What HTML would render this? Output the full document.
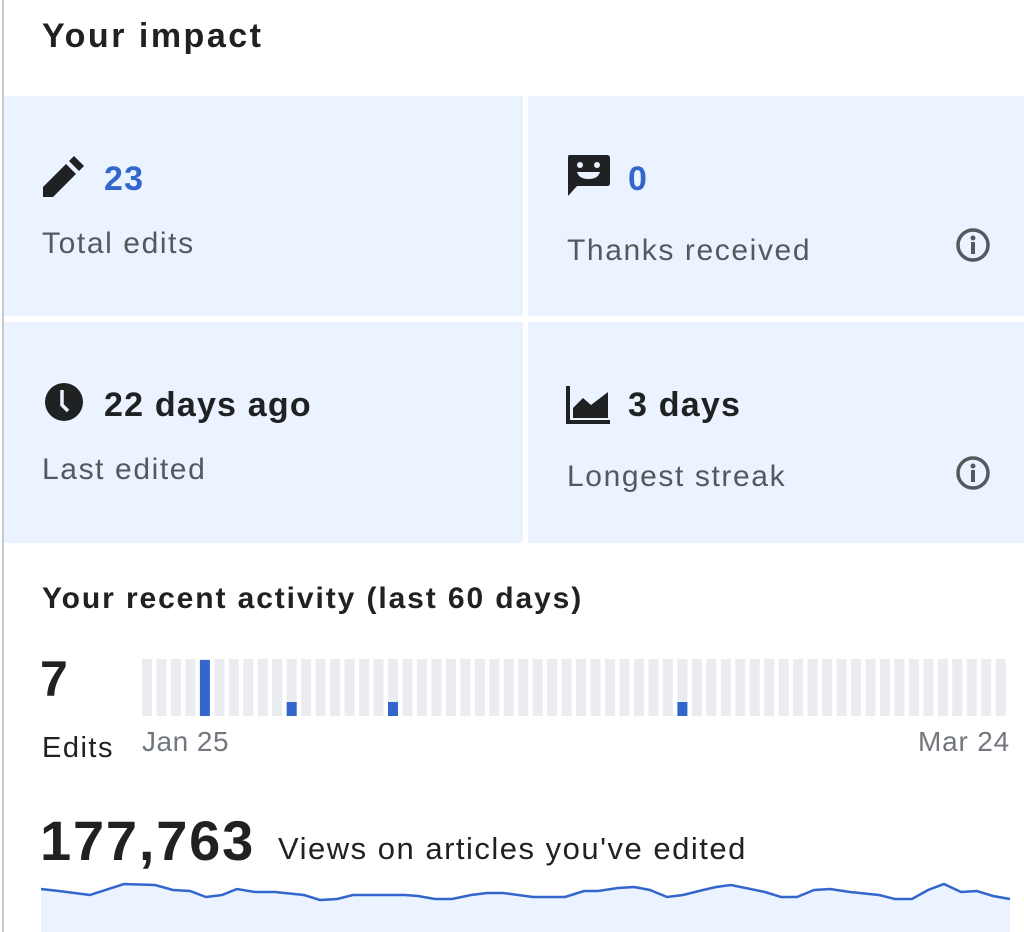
<!DOCTYPE html>
<html><head><meta charset="utf-8"><style>
*{margin:0;padding:0;box-sizing:border-box}
body{width:1024px;height:932px;background:#fff;position:relative;overflow:hidden;font-family:"Liberation Sans",sans-serif;color:#202122}
.a{position:absolute;white-space:nowrap}
.card{position:absolute;background:#eaf3ff}
.big{font-weight:bold;font-size:34px;letter-spacing:1.2px}
.lbl{font-size:30px;color:#54595d;letter-spacing:1.6px}
</style></head><body>
<div class="a" style="left:2px;top:0;width:2px;height:932px;background:#c8ccd1"></div>
<div class="a" style="left:42px;top:17px;font-size:34px;font-weight:bold;letter-spacing:2.5px">Your impact</div>
<div class="card" style="left:4px;top:96px;width:519px;height:220px"></div>
<div class="card" style="left:528px;top:96px;width:496px;height:220px"></div>
<div class="card" style="left:4px;top:322px;width:519px;height:221px"></div>
<div class="card" style="left:528px;top:322px;width:496px;height:221px"></div>

<svg class="a" style="left:40px;top:153px" width="46" height="46" viewBox="0 0 46 46"><path d="M3 44 L3 34 L26 11 L36 21 L13 44 Z" fill="#202122"/><path d="M29 8 L34 3 L44 13 L39 18 Z" fill="#202122"/></svg>
<div class="a big" style="left:104px;top:160px;color:#3366cc">23</div>
<div class="a lbl" style="left:42px;top:227px">Total edits</div>

<svg class="a" style="left:565px;top:152px" width="48" height="48" viewBox="0 0 48 48"><path d="M4 3 H42 Q45 3 45 6 V31 Q45 34 42 34 H12 L3 44 V6 Q3 3 4 3Z" fill="#202122"/><circle cx="15" cy="13" r="3" fill="#eaf3ff"/><circle cx="32" cy="13" r="3" fill="#eaf3ff"/><path d="M12 20 H35 Q33 27 23.5 27 Q14 27 12 20Z" fill="#eaf3ff"/></svg>
<div class="a big" style="left:628px;top:160px;color:#3366cc">0</div>
<div class="a lbl" style="left:567px;top:234px">Thanks received</div>
<svg class="a" style="left:955px;top:227px" width="36" height="36"><circle cx="18" cy="18" r="15" fill="none" stroke="#54595d" stroke-width="3.5"/><circle cx="18" cy="11" r="2.5" fill="#54595d"/><rect x="16" y="15" width="4" height="12" fill="#54595d"/></svg>

<svg class="a" style="left:40px;top:378px" width="48" height="48"><circle cx="24" cy="24" r="19" fill="#202122"/><path d="M22 12 V27 L28 33" stroke="#eaf3ff" stroke-width="3.5" fill="none"/></svg>
<div class="a big" style="left:104px;top:386px">22 days ago</div>
<div class="a lbl" style="left:42px;top:453px">Last edited</div>

<svg class="a" style="left:566px;top:384px" width="46" height="42"><path d="M2 2 V38 H44" stroke="#202122" stroke-width="4" fill="none"/><path d="M7 34 V24 L17 14 L25 21 L42 8 V34Z" fill="#202122"/></svg>
<div class="a big" style="left:628px;top:386px">3 days</div>
<div class="a lbl" style="left:567px;top:460px">Longest streak</div>
<svg class="a" style="left:955px;top:455px" width="36" height="36"><circle cx="18" cy="18" r="15" fill="none" stroke="#54595d" stroke-width="3.5"/><circle cx="18" cy="11" r="2.5" fill="#54595d"/><rect x="16" y="15" width="4" height="12" fill="#54595d"/></svg>

<div class="a" style="left:42px;top:582px;font-size:30px;font-weight:bold;letter-spacing:1.9px">Your recent activity (last 60 days)</div>
<div class="a" style="left:40px;top:650px;font-size:50px;font-weight:bold">7</div>
<div class="a" style="left:42px;top:732px;font-size:29px;letter-spacing:1.5px">Edits</div>
<div class="a" style="left:142px;top:726px;font-size:28px;color:#72777d;letter-spacing:0.5px">Jan 25</div>
<div class="a" style="right:14px;top:726px;font-size:28px;color:#72777d;letter-spacing:0.8px">Mar 24</div>
<svg class="a" style="left:0;top:0" width="1024" height="932" id="bars"></svg>
<div class="a" style="left:40px;top:808px;font-size:56px;font-weight:bold;letter-spacing:1.8px">177,763</div>
<div class="a" style="left:278px;top:831px;font-size:31px;letter-spacing:1.5px">Views on articles you've edited</div>
<svg class="a" style="left:0;top:0" width="1024" height="932">
<polygon fill="#eaf3ff" points="41,932 41,889 59,891 90,895 124,884 155,885 173,890 190,891 206,897 222,895 237,889 255,892 275,892 304,895 320,900 337,899 353,895 405,895 418,896 435,899 452,899 471,895 487,893 503,893 533,897 565,897 584,891 598,891 618,888 634,887 650,890 667,897 683,895 699,891 716,887 731,885 765,892 781,897 797,897 814,890 830,889 850,892 879,895 895,899 912,899 928,890 944,884 961,892 977,891 993,896 1010,899 1010,932"/>
<polyline fill="none" stroke="#3366cc" stroke-width="2.5" points="41,889 59,891 90,895 124,884 155,885 173,890 190,891 206,897 222,895 237,889 255,892 275,892 304,895 320,900 337,899 353,895 405,895 418,896 435,899 452,899 471,895 487,893 503,893 533,897 565,897 584,891 598,891 618,888 634,887 650,890 667,897 683,895 699,891 716,887 731,885 765,892 781,897 797,897 814,890 830,889 850,892 879,895 895,899 912,899 928,890 944,884 961,892 977,891 993,896 1010,899"/>
</svg>
<script>
var s=document.getElementById('bars'),h='';
for(var i=0;i<60;i++){var x=142+i*14.47;h+='<rect x="'+x.toFixed(1)+'" y="659" width="10" height="57" fill="#eaecf0"/>';
var t=0;if(i==4)t=56;if(i==10||i==17||i==37)t=14;
if(t)h+='<rect x="'+x.toFixed(1)+'" y="'+(716-t)+'" width="10" height="'+t+'" fill="#3366cc"/>';}
s.innerHTML=h;
</script>
</body></html>
